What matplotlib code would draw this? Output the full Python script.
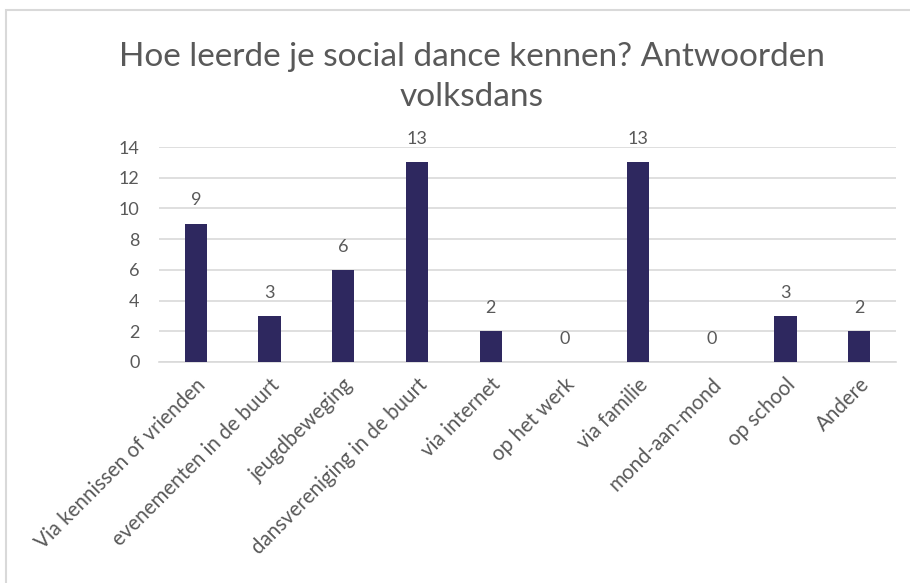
import matplotlib
matplotlib.use("Agg")
import matplotlib.pyplot as plt
from matplotlib.patches import Rectangle

categories = ["Via kennissen of vrienden", "evenementen in de buurt", "jeugdbeweging",
              "dansvereniging in de buurt", "via internet", "op het werk", "via familie",
              "mond-aan-mond", "op school", "Andere"]
values = [9, 3, 6, 13, 2, 0, 13, 0, 3, 2]
yticks = [0, 2, 4, 6, 8, 10, 12, 14]
title = "Hoe leerde je social dance kennen? Antwoorden\nvolksdans"

plt.rcParams['font.family'] = ['Lato', 'DejaVu Sans']
gray = '#595959'
bar_color = '#2E285F'

fig = plt.figure(figsize=(9.10, 5.83), dpi=100)
fig.patches.append(Rectangle((6/910, -0.1), 1.2, 1 - 10/583 + 0.1, transform=fig.transFigure,
                             fill=False, edgecolor='#D9D9D9', linewidth=1.5))
ax = fig.add_axes([159/910, 1 - 362/583, (896 - 159)/910, (362 - 147)/583])

x = list(range(len(categories)))
bars = ax.bar(x, values, width=0.3, color=bar_color, zorder=3)
for xi, v in zip(x, values):
    ax.text(xi, v + 1.0, str(v), ha='center', va='bottom', fontsize=13, color=gray)

ax.set_xlim(-0.5, len(categories) - 0.5)
ax.set_ylim(0, 14)
ax.set_yticks(yticks)
ax.set_yticklabels([str(t) for t in yticks], fontsize=13, color=gray)
ax.yaxis.grid(True, color='#D9D9D9', linewidth=1.2, zorder=0)
ax.set_xticks(x)
ax.set_xticklabels(categories, rotation=45, ha='right', rotation_mode='anchor',
                   fontsize=14.8, color=gray)
ax.tick_params(axis='x', length=0, pad=9)
ax.tick_params(axis='y', length=0, pad=14)
for s in ['top', 'right', 'left']:
    ax.spines[s].set_visible(False)
ax.spines['bottom'].set_color('#D9D9D9')
ax.spines['bottom'].set_linewidth(1.2)

fig.text(472/910, 1 - 77/583, title, ha='center', va='center', fontsize=24,
         color=gray, linespacing=1.42)

fig.savefig("out.png", dpi=100)
